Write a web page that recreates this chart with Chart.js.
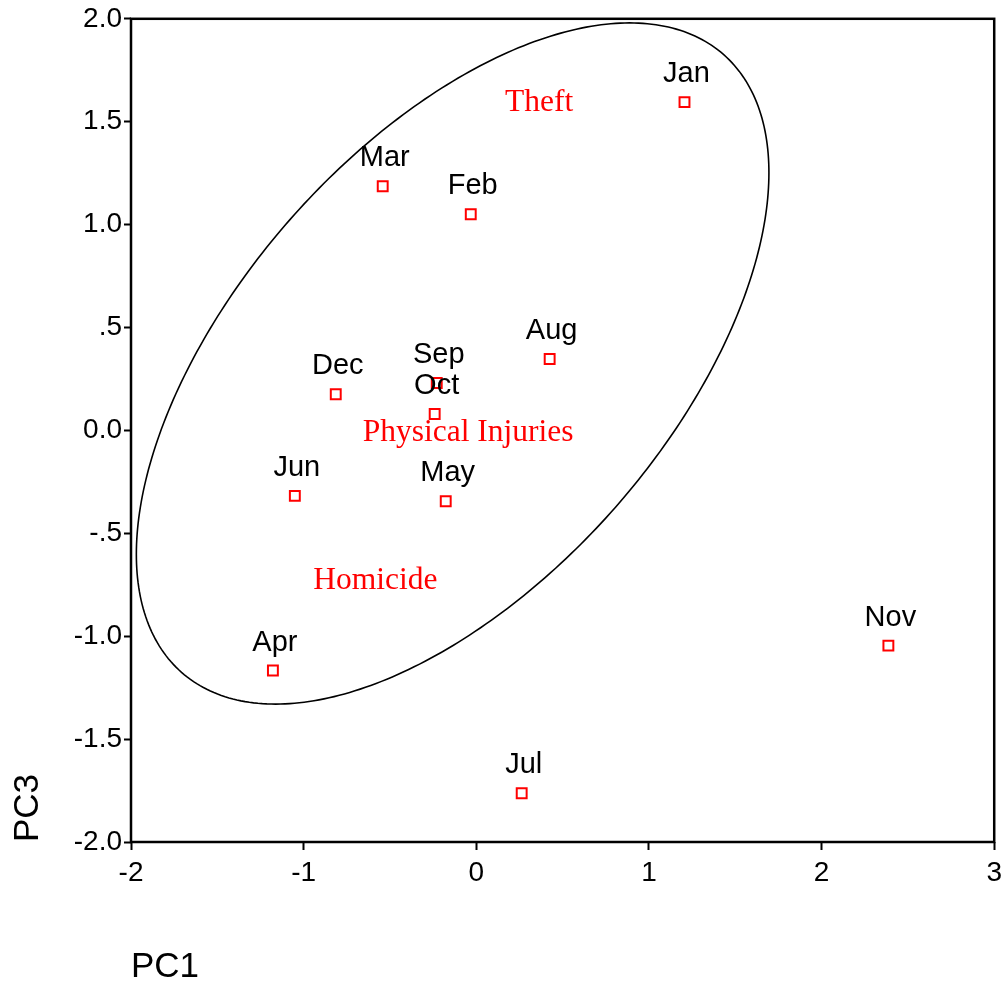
<!DOCTYPE html>
<html>
<head>
<meta charset="utf-8">
<script src="https://cdn.jsdelivr.net/npm/chart.js@4/dist/chart.umd.min.js"></script>
<style>
  html, body { margin: 0; padding: 0; background: #fff; }
  #wrap { width: 1008px; height: 985px; }
</style>
</head>
<body>
<div id="wrap"><canvas id="c"></canvas></div>
<script>
// Monthly component scores
const months = ['Jan', 'Feb', 'Mar', 'Apr', 'May', 'Jun', 'Jul', 'Aug', 'Sep', 'Oct', 'Nov', 'Dec'];
const pc1 = [1.206, -0.032, -0.542, -1.178, -0.177, -1.051, 0.263, 0.425, -0.229, -0.241, 2.387, -0.814];
const pc3 = [1.595, 1.050, 1.186, -1.167, -0.344, -0.318, -1.763, 0.347, 0.230, 0.080, -1.046, 0.176];

// Crime-type labels placed in the component space
const crimeNames = ['Theft', 'Physical Injuries', 'Homicide'];
const crimeX = [0.364, -0.047, -0.585];
const crimeY = [1.550, -0.053, -0.770];

// Grouping ellipse: centre, spread along each axis, correlation
const ellipseCenter = [-0.137, 0.325];
const ellipseSpread = [1.832, 1.655];
const ellipseRho = 0.56;

// Axis tick labels
const xTickValues = [-2, -1, 0, 1, 2, 3];
const xTickLabels = ['-2', '-1', '0', '1', '2', '3'];
const yTickValues = [2.0, 1.5, 1.0, 0.5, 0.0, -0.5, -1.0, -1.5, -2.0];
const yTickLabels = ['2.0', '1.5', '1.0', '.5', '0.0', '-.5', '-1.0', '-1.5', '-2.0'];

const SANS = '"Liberation Sans", Arial, sans-serif';
const SERIF = '"Liberation Serif", "Times New Roman", serif';

const points = months.map((m, i) => ({ x: pc1[i], y: pc3[i] }));

function labelFor(values, labels, v) {
  const i = values.findIndex(t => Math.abs(t - v) < 1e-6);
  return i >= 0 ? labels[i] : '';
}

const framePlugin = {
  id: 'frame',
  beforeDatasetsDraw(chart) {
    const { ctx, scales } = chart;
    const xs = scales.x, ys = scales.y;
    // grouping ellipse
    ctx.save();
    ctx.beginPath();
    const s = Math.sqrt(1 - ellipseRho * ellipseRho);
    for (let k = 0; k <= 360; k++) {
      const t = k * Math.PI / 180;
      const dx = ellipseSpread[0] * Math.cos(t);
      const dy = ellipseSpread[1] * (ellipseRho * Math.cos(t) + s * Math.sin(t));
      const px = xs.getPixelForValue(ellipseCenter[0] + dx);
      const py = ys.getPixelForValue(ellipseCenter[1] + dy);
      if (k === 0) ctx.moveTo(px, py); else ctx.lineTo(px, py);
    }
    ctx.closePath();
    ctx.lineWidth = 1.6;
    ctx.strokeStyle = '#000';
    ctx.stroke();
    ctx.restore();

    // crime-type labels
    ctx.save();
    ctx.fillStyle = '#ff0000';
    ctx.font = '31.5px ' + SERIF;
    ctx.textAlign = 'center';
    ctx.textBaseline = 'alphabetic';
    crimeNames.forEach((n, i) => {
      ctx.fillText(n, xs.getPixelForValue(crimeX[i]), ys.getPixelForValue(crimeY[i]));
    });
    ctx.restore();
  },
  afterDatasetsDraw(chart) {
    const { ctx, chartArea: a } = chart;
    // month labels above each marker
    ctx.save();
    ctx.fillStyle = '#000';
    ctx.font = '29px ' + SANS;
    ctx.textAlign = 'center';
    ctx.textBaseline = 'alphabetic';
    chart.getDatasetMeta(0).data.forEach((el, i) => {
      ctx.fillText(months[i], el.x + 2, el.y - 20);
    });
    ctx.restore();

    // plot frame
    ctx.save();
    ctx.strokeStyle = '#000';
    ctx.lineWidth = 2.5;
    ctx.strokeRect(a.left, a.top, a.right - a.left, a.bottom - a.top);
    ctx.restore();
  }
};

new Chart(document.getElementById('c'), {
  type: 'scatter',
  data: {
    datasets: [{
      data: points,
      pointStyle: 'rect',
      pointRadius: 7,
      pointHoverRadius: 7,
      borderColor: '#ff0000',
      backgroundColor: '#ffffff',
      borderWidth: 2
    }]
  },
  options: {
    responsive: true,
    maintainAspectRatio: false,
    animation: false,
    events: [],
    layout: { padding: { top: 16, right: 13, left: 0, bottom: 0 } },
    plugins: { legend: { display: false }, tooltip: { enabled: false } },
    scales: {
      x: {
        type: 'linear',
        min: -2, max: 3,
        afterBuildTicks(scale) { scale.ticks = xTickValues.map(v => ({ value: v })); },
        afterFit(scale) { scale.height = 143; },
        border: { display: false },
        grid: { display: true, drawOnChartArea: false, drawTicks: true, tickLength: 8, tickWidth: 2, tickColor: '#000' },
        ticks: {
          color: '#000',
          font: { family: SANS, size: 28 },
          padding: 6,
          maxRotation: 0,
          callback: v => labelFor(xTickValues, xTickLabels, v)
        },
        title: {
          display: true, text: 'PC1', align: 'start',
          color: '#000', font: { family: SANS, size: 35, lineHeight: 1.0 },
          padding: { top: 0, bottom: 0 }
        }
      },
      y: {
        type: 'linear',
        min: -2, max: 2,
        afterBuildTicks(scale) { scale.ticks = yTickValues.map(v => ({ value: v })); },
        afterFit(scale) { scale.width = 131; },
        border: { display: false },
        grid: { display: true, drawOnChartArea: false, drawTicks: true, tickLength: 7, tickWidth: 2, tickColor: '#000' },
        ticks: {
          color: '#000',
          font: { family: SANS, size: 28 },
          padding: 2,
          callback: v => labelFor(yTickValues, yTickLabels, v)
        },
        title: {
          display: true, text: 'PC3', align: 'start',
          color: '#000', font: { family: SANS, size: 35 },
          padding: { top: 7, bottom: 0 }
        }
      }
    }
  },
  plugins: [framePlugin]
});
</script>
</body>
</html>
